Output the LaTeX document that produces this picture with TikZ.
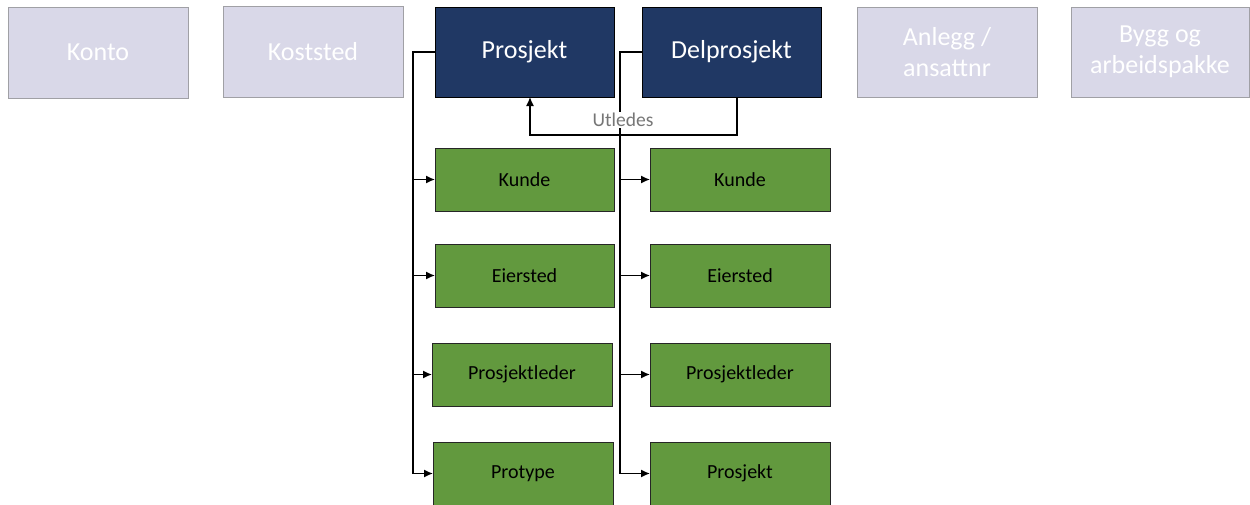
\documentclass[tikz,border=0pt]{standalone}
\usepackage{fontspec}
\setmainfont{Carlito}
\usetikzlibrary{arrows.meta}
\definecolor{lav}{RGB}{217,216,232}
\definecolor{lavb}{RGB}{160,160,165}
\definecolor{navy}{RGB}{32,56,100}
\definecolor{grn}{RGB}{98,153,62}
\definecolor{utl}{RGB}{118,118,118}
\tikzset{
  box/.style={draw, line width=1pt, inner sep=0pt, outer sep=0pt, anchor=north west, align=center},
  dimbox/.style={box, fill=lav, draw=lavb, text=white, font=\fontsize{26}{31}\selectfont, minimum width=180pt, minimum height=91pt},
  keybox/.style={box, fill=navy, draw=black, text=white, font=\fontsize{26}{31}\selectfont, minimum width=179pt, minimum height=90pt},
  subbox/.style={box, fill=grn, draw=black!85, text=black, font=\fontsize{20}{23}\selectfont, minimum width=179pt, minimum height=63pt},
  bus/.style={line width=1.4pt},
  conn/.style={line width=1.4pt, -{Latex[length=9pt,width=8pt]}}
}
\begin{document}
\begin{tikzpicture}[x=1pt,y=-1pt]
\useasboundingbox (0,0) rectangle (1250,504);
% top dimension boxes
\node[dimbox] (konto) at (8,7) {Konto};
\node[dimbox] (kost) at (223,6) {Koststed};
\node[keybox] (pro) at (435,7) {Prosjekt};
\node[keybox] (del) at (642,7) {Delprosjekt};
\node[dimbox, minimum height=90pt] (anl) at (857,7) {Anlegg /\\ansattnr};
\node[dimbox, minimum width=178pt, minimum height=90pt] (byg) at (1071,7) {Bygg og\\arbeidspakke};
% left column
\node[subbox] (l1) at (435,148) {Kunde};
\node[subbox] (l2) at (435,244) {Eiersted};
\node[subbox, minimum width=180pt] (l3) at (432,343) {Prosjektleder};
\node[subbox, minimum width=180pt] (l4) at (433,442) {Protype};
% right column
\node[subbox, minimum width=180pt] (r1) at (650,148) {Kunde};
\node[subbox, minimum width=180pt] (r2) at (650,244) {Eiersted};
\node[subbox, minimum width=180pt] (r3) at (650,343) {Prosjektleder};
\node[subbox, minimum width=180pt] (r4) at (650,442) {Prosjekt};
% buses
\coordinate (lbus) at (413,0);
\coordinate (rbus) at (620,0);
\draw[bus] (pro.west) -- (pro.west -| lbus) -- (lbus |- l4.west);
\draw[bus] (del.west) -- (del.west -| rbus) -- (rbus |- r4.west);
\foreach \n in {l1,l2,l3,l4} \draw[conn] (lbus |- \n.west) -- (\n.west);
\foreach \n in {r1,r2,r3,r4} \draw[conn] (rbus |- \n.west) -- (\n.west);
% derived
\coordinate (u1) at (737,135);
\coordinate (u2) at (530,135);
\draw[conn] (u1 |- del.south) -- (u1) -- (u2) -- (u2 |- pro.south);
\node[fill=white, text=utl, font=\fontsize{19.5}{22}\selectfont, inner sep=1.5pt] (utledes) at (623,120) {Utledes};
\end{tikzpicture}
\end{document}
